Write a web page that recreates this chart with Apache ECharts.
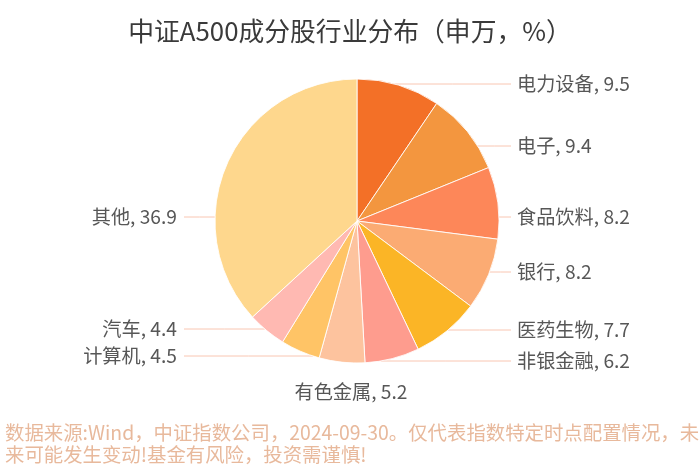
<!DOCTYPE html>
<html>
<head>
<meta charset="utf-8">
<script src="https://cdn.jsdelivr.net/npm/echarts@6/dist/echarts.min.js"></script>
<style>
  html, body { margin: 0; padding: 0; background: #ffffff; }
  #chart { width: 700px; height: 473px; }
</style>
</head>
<body>
<div id="chart"></div>
<script>
// ---- data ----
const categories = ['电力设备', '电子', '食品饮料', '银行', '医药生物', '非银金融', '有色金属', '计算机', '汽车', '其他'];
const values = [9.5, 9.4, 8.2, 8.2, 7.7, 6.2, 5.2, 4.5, 4.4, 36.9];
const titleText = '中证A500成分股行业分布（申万，%）';
const footerText = '数据来源:Wind，中证指数公司，2024-09-30。仅代表指数特定时点配置情况，未\n来可能发生变动!基金有风险，投资需谨慎!';

// ---- styles / layout ----
const colors = ['#F37027', '#F3963F', '#FD8759', '#FBAB73', '#FBB526', '#FE9C8E', '#FDC39E', '#FFC466', '#FFB9B2', '#FED78D'];
const pieCx = 357, pieCy = 221, pieR = 142;
// vertical offsets of each label from the pie centre (layout only)
const labelDy = [-137, -75, -4, 51, 109, 140, 171, 135, 108, -4];
const rightLineEnd = 511, rightTextX = 517;
const leftLineEnd = 184, leftTextX = 177;

const chart = echarts.init(document.getElementById('chart'), null, { renderer: 'canvas' });
const FONT = '"Noto Sans CJK SC", "Noto Sans", sans-serif';

const data = categories.map((name, i) => {
  const item = { name: name, value: values[i], itemStyle: { color: colors[i] } };
  if (i === 6) item.labelLine = { show: false };
  return item;
});

chart.setOption({
  backgroundColor: '#ffffff',
  animation: false,
  title: {
    text: titleText,
    left: 'center',
    top: 13,
    padding: [5, 5, 5, 14],
    textStyle: { fontFamily: FONT, fontSize: 25.8, fontWeight: 'normal', color: '#3a3a3a' }
  },
  graphic: [{
    type: 'text',
    left: 5,
    top: 422,
    style: {
      text: footerText,
      font: '19.4px ' + FONT,
      fill: '#E8B99C',
      lineHeight: 22
    }
  }],
  series: [{
    type: 'pie',
    center: [pieCx, pieCy],
    radius: pieR,
    startAngle: 90,
    clockwise: true,
    data: data,
    itemStyle: { borderColor: 'rgba(255,255,255,0.85)', borderWidth: 1 },
    label: {
      show: true,
      formatter: '{b}, {c}',
      fontFamily: FONT,
      fontSize: 19.2,
      color: '#575757'
    },
    labelLine: {
      show: true,
      length: 10,
      length2: 10,
      lineStyle: { color: '#F9C6B2', width: 1 }
    },
    labelLayout: function (params) {
      const i = params.dataIndex;
      const dy = labelDy[i];
      const y = pieCy + dy;
      if (i === 6) {
        return { x: pieCx - 6, y: y, align: 'center', verticalAlign: 'middle' };
      }
      const isRight = i < 6;
      const dx = Math.sqrt(Math.max(pieR * pieR - dy * dy, 0));
      const edgeX = isRight ? pieCx + dx : pieCx - dx;
      const endX = isRight ? rightLineEnd : leftLineEnd;
      return {
        x: isRight ? rightTextX : leftTextX,
        y: y,
        align: isRight ? 'left' : 'right',
        verticalAlign: 'middle',
        labelLinePoints: [[edgeX, y], [(edgeX + endX) / 2, y], [endX, y]]
      };
    }
  }]
});
</script>
</body>
</html>
